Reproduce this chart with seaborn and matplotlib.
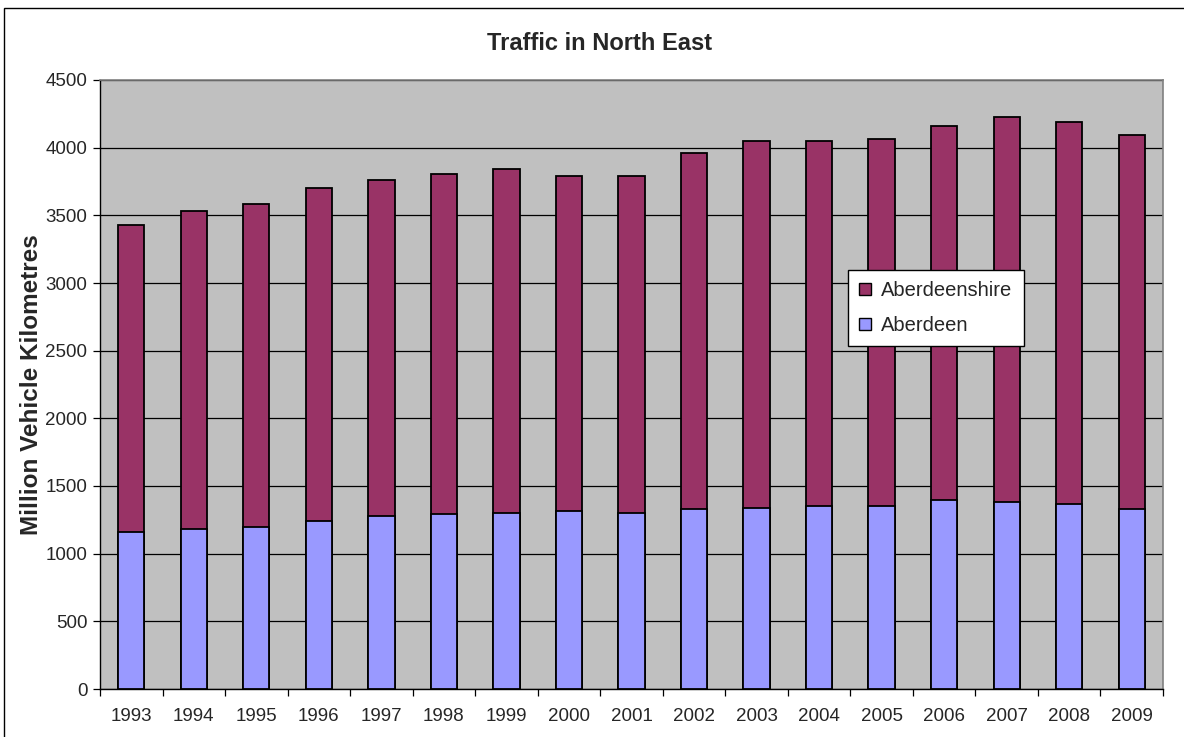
import matplotlib
matplotlib.use("Agg")
import matplotlib.pyplot as plt
import seaborn as sns
import numpy as np
import pandas as pd
from matplotlib.patches import Rectangle

years = [str(y) for y in range(1993, 2010)]
aberdeen = [1160, 1185, 1200, 1245, 1275, 1290, 1300, 1315, 1300, 1330,
            1340, 1355, 1355, 1400, 1385, 1370, 1330]
totals = [3430, 3532, 3587, 3704, 3758, 3803, 3846, 3788, 3788, 3963,
          4047, 4047, 4062, 4161, 4226, 4191, 4092]
aberdeenshire = [t - a for t, a in zip(totals, aberdeen)]

df = pd.DataFrame({"year": years, "Aberdeen": aberdeen,
                   "Aberdeenshire": aberdeenshire})
df["total"] = df["Aberdeen"] + df["Aberdeenshire"]

sns.set_style("white")
plt.rcParams["font.family"] = ["Liberation Sans", "DejaVu Sans"]

fig = plt.figure(figsize=(11.84, 7.37), dpi=100)
ax = fig.add_axes([100 / 1184, 1 - 689 / 737, 1063 / 1184, 609 / 737])
ax.set_facecolor("#C0C0C0")

# outer chart border
fig.patches.append(Rectangle((4 / 1184, -0.01), 1.0, 1 - 8 / 737 + 0.01,
                             transform=fig.transFigure, fill=False,
                             edgecolor="black", linewidth=1.0))

# stacked bars: total first, then Aberdeen over it
sns.barplot(data=df, x="year", y="total", color="#993366", width=0.42,
            edgecolor="black", linewidth=1.3, saturation=1, ax=ax, zorder=3)
sns.barplot(data=df, x="year", y="Aberdeen", color="#9999FF", width=0.42,
            edgecolor="black", linewidth=1.3, saturation=1, ax=ax, zorder=4)

ax.set_ylim(0, 4500)
ax.set_xlim(-0.5, len(years) - 0.5)
ax.set_yticks(np.arange(0, 4501, 500))
ax.yaxis.grid(True, color="black", linewidth=0.9)
ax.set_axisbelow(True)

ax.tick_params(axis="y", which="major", length=5, width=0.9, color="black",
               labelsize=13.5, direction="out", left=True, pad=4)
ax.tick_params(axis="x", which="major", length=0, labelsize=13.5, pad=14)
ax.set_xticks(np.arange(-0.5, len(years), 1), minor=True)
ax.tick_params(axis="x", which="minor", length=5, width=0.9, color="black",
               direction="out", bottom=True)

for side in ["top", "right"]:
    ax.spines[side].set_color("#808080")
    ax.spines[side].set_linewidth(1.2)
for side in ["left", "bottom"]:
    ax.spines[side].set_color("black")
    ax.spines[side].set_linewidth(1.0)

ax.set_xlabel("")
ax.set_ylabel("Million Vehicle Kilometres", fontsize=17.5, fontweight="bold",
              labelpad=2)
fig.text(600 / 1184, 1 - 44 / 737, "Traffic in North East", fontsize=17,
         fontweight="bold", ha="center", va="center")

handles = [Rectangle((0, 0), 1, 1, facecolor="#993366", edgecolor="black"),
           Rectangle((0, 0), 1, 1, facecolor="#9999FF", edgecolor="black")]
leg = ax.legend(handles, ["Aberdeenshire", "Aberdeen"],
                loc="upper left", bbox_to_anchor=((848 - 100) / 1063,
                                                  (689 - 270) / 609),
                fontsize=14.5, frameon=True, fancybox=False, framealpha=1,
                edgecolor="black", handlelength=0.6, handleheight=0.6,
                handletextpad=0.5, borderpad=0.55, labelspacing=0.8,
                borderaxespad=0)
leg.get_frame().set_linewidth(1.0)
leg.set_zorder(10)

fig.savefig("out.png", dpi=100, facecolor="white")
